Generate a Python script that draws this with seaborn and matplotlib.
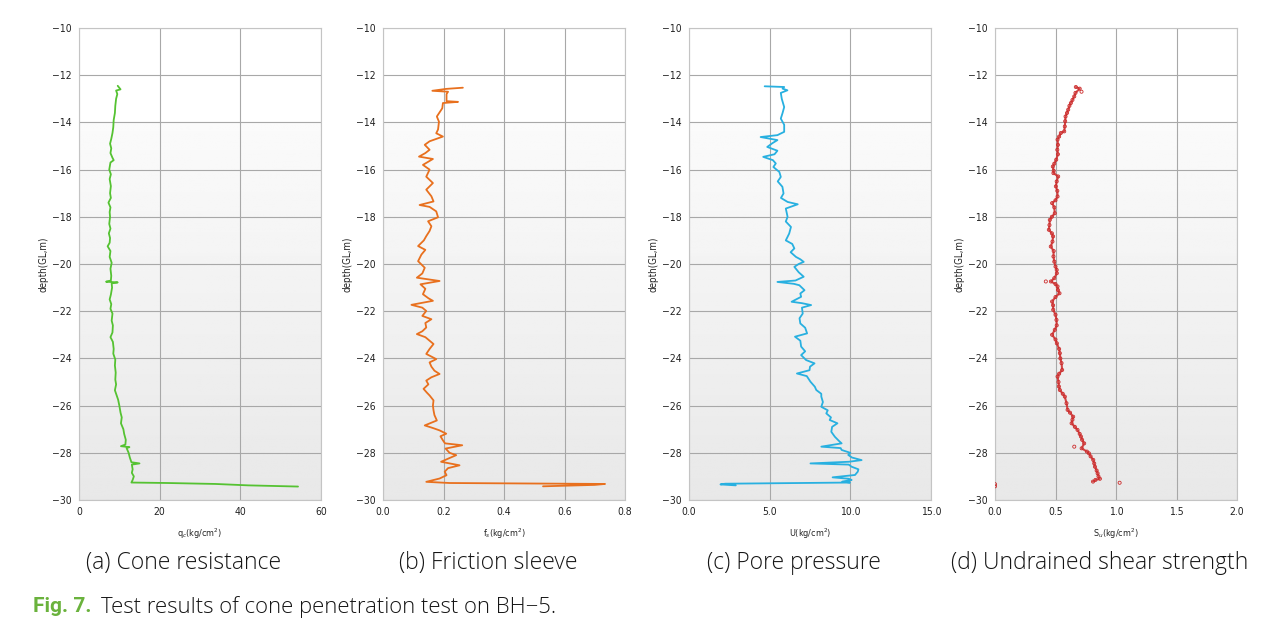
import numpy as np
import pandas as pd
import matplotlib.pyplot as plt
import seaborn as sns

# cone resistance qc (kg/cm2) vs depth
qc_depth = [-12.45, -12.6, -12.65, -12.8, -13.0, -13.3, -13.6, -13.9, -14.2, -14.45, -14.7, -14.9,
            -15.1, -15.3, -15.5, -15.6, -15.7, -16.0, -16.2, -16.4, -16.7, -17.0, -17.2, -17.4,
            -17.6, -17.8, -18.0, -18.3, -18.5, -18.7, -18.9, -19.1, -19.25, -19.45, -19.7, -19.95,
            -20.2, -20.5, -20.7, -20.75, -20.78, -20.82, -21.0, -21.3, -21.5, -21.7, -21.9, -22.1,
            -22.4, -22.6, -22.9, -23.1, -23.3, -23.6, -23.8, -24.05, -24.3, -24.6, -24.9, -25.1,
            -25.35, -25.55, -25.75, -26.0, -26.3, -26.5, -26.75, -27.0, -27.2, -27.45, -27.65, -27.72,
            -27.76, -27.8, -28.0, -28.2, -28.4, -28.45, -28.5, -28.7, -28.85, -29.0, -29.15, -29.26,
            -29.28, -29.32, -29.38, -29.43]
qc_value = [9.6, 10.3, 9.2, 9.5, 9.2, 9.0, 8.9, 8.6, 8.5, 8.3, 8.0, 7.7,
            8.0, 7.8, 8.3, 8.6, 7.8, 7.5, 7.9, 7.6, 7.9, 7.7, 7.9, 7.3,
            7.8, 7.6, 7.7, 7.5, 7.8, 7.4, 7.7, 7.6, 7.1, 7.8, 7.6, 8.1,
            7.8, 8.0, 7.9, 6.7, 9.6, 8.1, 8.2, 7.9, 7.6, 8.0, 7.8, 8.3,
            8.1, 8.4, 8.3, 7.8, 8.4, 8.6, 8.5, 9.0, 8.9, 9.1, 9.0, 9.2,
            8.9, 9.3, 9.7, 10.0, 10.3, 10.6, 10.4, 11.0, 11.2, 11.6, 11.5, 10.4,
            12.5, 11.8, 12.3, 12.6, 13.0, 15.0, 13.1, 13.3, 13.1, 13.6, 13.3, 13.0,
            22.0, 33.8, 42.0, 54.3]

# friction sleeve fs (kg/cm2)
fs_depth = [-12.53, -12.58, -12.66, -12.7, -12.8, -13.1, -13.13, -13.18, -13.4, -13.75, -13.97, -14.3,
            -14.46, -14.6, -14.7, -14.8, -14.95, -15.16, -15.3, -15.45, -15.55, -15.8, -16.0, -16.3,
            -16.57, -16.85, -17.13, -17.35, -17.5, -17.58, -17.77, -18.02, -18.19, -18.4, -18.6, -18.82,
            -19.0, -19.24, -19.4, -19.6, -19.88, -20.16, -20.4, -20.58, -20.72, -20.86, -21.05, -21.28,
            -21.45, -21.56, -21.73, -21.85, -21.99, -22.2, -22.34, -22.5, -22.69, -22.85, -22.97, -23.1,
            -23.25, -23.39, -23.6, -23.81, -24.03, -24.17, -24.35, -24.52, -24.66, -24.8, -24.94, -25.1,
            -25.29, -25.45, -25.57, -25.78, -26.0, -26.2, -26.4, -26.63, -26.84, -26.95, -27.05, -27.19,
            -27.3, -27.47, -27.6, -27.68, -27.82, -28.0, -28.1, -28.25, -28.38, -28.53, -28.65, -28.8,
            -28.95, -29.09, -29.23, -29.28, -29.32, -29.36, -29.42]
fs_value = [0.264, 0.209, 0.163, 0.215, 0.21, 0.21, 0.248, 0.198, 0.196, 0.178, 0.185, 0.182,
            0.176, 0.198, 0.176, 0.154, 0.138, 0.154, 0.14, 0.119, 0.165, 0.132, 0.154, 0.143,
            0.165, 0.143, 0.160, 0.167, 0.121, 0.154, 0.176, 0.182, 0.149, 0.16, 0.154, 0.143,
            0.135, 0.116, 0.14, 0.127, 0.116, 0.138, 0.13, 0.112, 0.187, 0.124, 0.14, 0.132,
            0.15, 0.165, 0.094, 0.13, 0.143, 0.13, 0.160, 0.14, 0.143, 0.13, 0.112, 0.14,
            0.154, 0.167, 0.154, 0.143, 0.176, 0.154, 0.16, 0.170, 0.187, 0.16, 0.143, 0.15,
            0.134, 0.145, 0.154, 0.167, 0.165, 0.167, 0.17, 0.178, 0.138, 0.165, 0.187, 0.209,
            0.19, 0.198, 0.205, 0.262, 0.207, 0.22, 0.242, 0.215, 0.192, 0.253, 0.215, 0.204,
            0.21, 0.187, 0.143, 0.22, 0.734, 0.70, 0.529]

# pore pressure U (kg/cm2)
u_depth = [-12.47, -12.5, -12.57, -12.64, -12.75, -13.0, -13.35, -13.6, -13.84, -14.1, -14.4, -14.54,
           -14.62, -14.75, -14.88, -15.04, -15.2, -15.35, -15.46, -15.6, -15.74, -15.89, -16.1, -16.31,
           -16.5, -16.73, -17.01, -17.2, -17.37, -17.47, -17.65, -18.0, -18.2, -18.43, -18.71, -19.0,
           -19.15, -19.34, -19.5, -19.7, -19.8, -19.91, -20.0, -20.12, -20.35, -20.54, -20.7, -20.76,
           -20.84, -20.9, -21.11, -21.25, -21.39, -21.6, -21.66, -21.74, -21.85, -22.1, -22.3, -22.52,
           -22.7, -22.94, -23.08, -23.25, -23.5, -23.7, -23.86, -24.07, -24.21, -24.35, -24.5, -24.64,
           -24.75, -24.99, -25.2, -25.34, -25.5, -25.62, -25.85, -26.05, -26.2, -26.33, -26.5, -26.61,
           -26.75, -26.9, -27.11, -27.32, -27.5, -27.6, -27.74, -27.8, -27.88, -28.0, -28.09, -28.2,
           -28.31, -28.38, -28.45, -28.5, -28.59, -28.7, -28.8, -28.94, -29.04, -29.1, -29.15, -29.22,
           -29.26, -29.31, -29.34, -29.38]
u_value = [4.69, 5.9, 5.8, 6.1, 5.69, 5.75, 5.9, 5.8, 5.69, 5.9, 5.9, 5.48,
           4.44, 5.48, 5.17, 4.85, 5.48, 5.3, 4.6, 5.2, 5.38, 5.23, 5.6, 5.69,
           5.5, 5.79, 5.86, 5.7, 6.11, 6.74, 6.0, 6.11, 6.0, 6.32, 6.21, 6.0,
           6.4, 6.53, 6.3, 6.63, 6.9, 7.11, 6.8, 6.53, 6.8, 7.11, 6.6, 5.48,
           6.5, 6.84, 7.16, 6.9, 6.95, 6.36, 7.0, 7.57, 7.0, 7.05, 6.85, 6.9,
           7.2, 7.32, 6.57, 6.9, 6.95, 7.2, 6.95, 7.26, 7.78, 7.5, 7.47, 6.69,
           7.3, 7.53, 7.8, 7.89, 8.2, 8.2, 8.3, 8.2, 8.6, 8.51, 8.8, 8.72,
           9.2, 8.87, 8.82, 9.04, 9.3, 9.46, 8.2, 9.4, 9.46, 10.0, 9.87, 10.1,
           10.7, 9.9, 7.53, 9.9, 10.08, 10.5, 10.46, 10.29, 8.9, 9.9, 10.08, 9.5,
           9.98, 2.24, 1.95, 2.9]

# undrained shear strength Su (kg/cm2)
su_depth = [-12.5, -12.57, -12.75, -12.9, -13.05, -13.18, -13.3, -13.46, -13.6, -13.75, -13.95, -14.17,
            -14.38, -14.45, -14.6, -14.73, -14.95, -15.16, -15.35, -15.58, -15.75, -15.87, -16.05, -16.15,
            -16.29, -16.5, -16.71, -16.9, -17.14, -17.3, -17.42, -17.6, -17.85, -18.0, -18.13, -18.35,
            -18.55, -18.7, -18.83, -19.05, -19.26, -19.45, -19.68, -19.9, -20.11, -20.25, -20.39, -20.6,
            -20.74, -20.85, -20.95, -21.1, -21.24, -21.4, -21.59, -21.75, -21.94, -22.15, -22.37, -22.6,
            -22.79, -23.0, -23.2, -23.36, -23.6, -23.78, -24.0, -24.2, -24.49, -24.65, -24.77, -25.0,
            -25.19, -25.34, -25.5, -25.62, -25.9, -26.18, -26.3, -26.47, -26.6, -26.75, -26.9, -27.03,
            -27.2, -27.31, -27.45, -27.6, -27.81, -27.95, -28.02, -28.15, -28.3, -28.45, -28.59, -28.75,
            -28.87, -29.0, -29.1, -29.15, -29.22]
su_value = [0.668, 0.70, 0.665, 0.655, 0.64, 0.627, 0.615, 0.605, 0.595, 0.583, 0.58, 0.577,
            0.572, 0.544, 0.53, 0.517, 0.52, 0.515, 0.52, 0.506, 0.49, 0.478, 0.485, 0.483,
            0.522, 0.51, 0.503, 0.515, 0.517, 0.5, 0.472, 0.49, 0.494, 0.47, 0.453, 0.45,
            0.445, 0.47, 0.48, 0.475, 0.461, 0.485, 0.483, 0.49, 0.5, 0.51, 0.511, 0.49,
            0.462, 0.5, 0.517, 0.52, 0.533, 0.5, 0.472, 0.48, 0.481, 0.5, 0.508, 0.51,
            0.494, 0.472, 0.5, 0.511, 0.53, 0.536, 0.54, 0.55, 0.555, 0.53, 0.517, 0.525,
            0.528, 0.536, 0.56, 0.577, 0.591, 0.6, 0.62, 0.646, 0.64, 0.633, 0.66, 0.682,
            0.7, 0.71, 0.72, 0.737, 0.716, 0.76, 0.776, 0.79, 0.812, 0.82, 0.826, 0.84,
            0.848, 0.855, 0.867, 0.83, 0.81]
su_out_depth = [-12.7, -20.74, -27.74, -29.27, -29.33, -29.42]
su_out_value = [0.715, 0.42, 0.655, 1.03, 0.0, 0.0]

xlabels = ["q$_c$(kg/cm$^2$)", "f$_s$(kg/cm$^2$)", "U(kg/cm$^2$)", "S$_u$(kg/cm$^2$)"]
captions = ["(a) Cone resistance", "(b) Friction sleeve", "(c) Pore pressure", "(d) Undrained shear strength"]
xticks = [[0, 20, 40, 60], [0.0, 0.2, 0.4, 0.6, 0.8], [0.0, 5.0, 10.0, 15.0], [0.0, 0.5, 1.0, 1.5, 2.0]]
xfmt = ["{:.0f}", "{:.1f}", "{:.1f}", "{:.1f}"]
yticks = [-10, -12, -14, -16, -18, -20, -22, -24, -26, -28, -30]
colors = ["#55c232", "#e8701e", "#28b0e0", "#cc2a2a"]

sns.set_style("white")
plt.rcParams['font.family'] = ['DejaVu Sans']
plt.rcParams['font.stretch'] = 'condensed'

fig = plt.figure(figsize=(12.72, 6.37), dpi=100)
lefts = [79, 383, 689, 995]
W, H = 1272, 637
grad = np.linspace(1.0, 0.91, 200).reshape(-1, 1)
grad[:40] = 1.0

series = [(qc_value, qc_depth), (fs_value, fs_depth), (u_value, u_depth), (su_value, su_depth)]
for i, (xv, yv) in enumerate(series):
    ax = fig.add_axes([lefts[i] / W, 1 - 500 / H, 242 / W, 472 / H])
    ax.imshow(grad, cmap="gray", vmin=0, vmax=1, aspect="auto",
              extent=[0, 1, 0, 1], transform=ax.transAxes, zorder=0)
    df = pd.DataFrame({"x": xv, "y": yv})
    if i < 3:
        sns.lineplot(data=df, x="x", y="y", sort=False, estimator=None,
                     color=colors[i], lw=1.3, ax=ax, zorder=3)
    else:
        sns.lineplot(data=df, x="x", y="y", sort=False, estimator=None,
                     color=colors[i], lw=1.5, alpha=0.85, ax=ax, zorder=3)
        sns.scatterplot(data=df, x="x", y="y", marker="o", s=5, facecolor="none",
                        edgecolor=colors[i], linewidth=0.6, ax=ax, zorder=4)
        sns.scatterplot(x=su_out_value, y=su_out_depth, marker="o", s=5, facecolor="none",
                        edgecolor=colors[i], linewidth=0.6, ax=ax, zorder=4)
    ax.set_xlim(xticks[i][0], xticks[i][-1])
    ax.set_ylim(-30, -10)
    ax.set_xticks(xticks[i])
    ax.set_xticklabels([xfmt[i].format(t) for t in xticks[i]], fontsize=7.5)
    ax.set_yticks(yticks)
    ax.set_yticklabels([str(t).replace("-", "\u2212") for t in yticks], fontsize=7.5)
    ax.grid(True, color="#a8a8a8", lw=0.8)
    ax.set_axisbelow(True)
    for s in ax.spines.values():
        s.set_color("#c4c4c4")
        s.set_linewidth(0.8)
    ax.tick_params(length=3, width=0.6, color="#888888", pad=2, labelcolor="#222222")
    ax.set_xlabel(xlabels[i], fontsize=6.5, labelpad=7, color="#222222")
    ax.set_ylabel("depth(GL,m)", fontsize=7, labelpad=3, color="#222222")

    fig.text((lefts[i] + 105) / W, 1 - 563 / H, captions[i], ha="center", va="center",
             fontsize=16.5, family=["Open Sans", "DejaVu Sans"], fontweight="light",
             fontstretch="normal", color="#151515")

fig.text(33 / W, 1 - 607 / H, "Fig. 7.", ha="left", va="center", fontsize=15,
         family=["Roboto", "DejaVu Sans"], fontweight="bold", color="#6ab23c")
fig.text(101 / W, 1 - 607 / H, "Test results of cone penetration test on BH\u22125.", ha="left",
         va="center", fontsize=15.9, family=["Open Sans", "DejaVu Sans"], fontweight="light",
         fontstretch="normal", color="#151515")

fig.savefig("out.png", dpi=100)
